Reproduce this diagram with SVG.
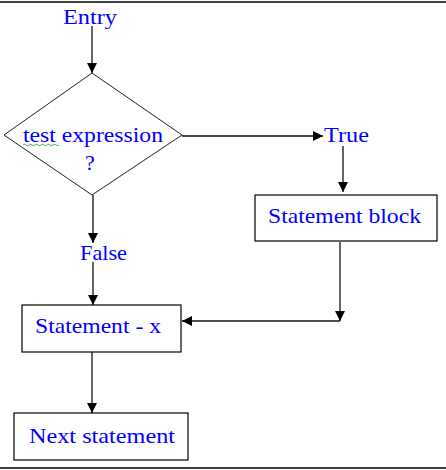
<svg xmlns="http://www.w3.org/2000/svg" width="446" height="470" viewBox="0 0 446 470">
<style>
.shape{fill:#fff;stroke:#000;stroke-width:1.2}
.diam{fill:#fff;stroke:#222;stroke-width:1}
.lbl{font-family:"Liberation Serif","DejaVu Serif",serif;font-size:22px;fill:#0000ff}
.con{stroke:#111;stroke-width:1.3;fill:none}
</style>
<defs>
<marker id="ah" viewBox="0 0 10 10" refX="10" refY="5" markerWidth="10" markerHeight="10" markerUnits="userSpaceOnUse" orient="auto">
<path d="M0,0 L10,5 L0,10 Z" fill="#000"/>
</marker>
</defs>
<rect x="0" y="0" width="446" height="470" fill="#fff"/>
<line x1="0" y1="2" x2="446" y2="2" stroke="#000" stroke-width="1.3"/>
<line x1="0" y1="468" x2="446" y2="468" stroke="#000" stroke-width="1.3"/>
<g id="connectors">
<line class="con" x1="92" y1="26" x2="92" y2="73" marker-end="url(#ah)"/>
<line class="con" x1="182" y1="136" x2="323" y2="136" marker-end="url(#ah)"/>
<line class="con" x1="343" y1="146" x2="343" y2="192" marker-end="url(#ah)"/>
<line class="con" x1="93" y1="195" x2="93" y2="243" marker-end="url(#ah)"/>
<line class="con" x1="93" y1="262" x2="93" y2="305" marker-end="url(#ah)"/>
<line class="con" x1="340" y1="242" x2="340" y2="321" marker-end="url(#ah)"/>
<line class="con" x1="340" y1="321" x2="182" y2="321" marker-end="url(#ah)"/>
<line class="con" x1="92" y1="352" x2="92" y2="413" marker-end="url(#ah)"/>
</g>
<g id="entry">
<text class="lbl" x="63" y="24" textLength="54" lengthAdjust="spacingAndGlyphs">Entry</text>
</g>
<g id="decision">
<polygon class="diam" points="92,73 182,135 92,195 4,135"/>
<text class="lbl" x="23" y="142" textLength="140" lengthAdjust="spacingAndGlyphs">test expression</text>
<text class="lbl" x="85" y="170">?</text>
<path d="M23,145 q1.5,-1.5 3,0 t3,0 t3,0 t3,0 t3,0 t3,0 t3,0 t3,0 t3,0 t3,0 t3,0 t3,0" fill="none" stroke="#2e8b2e" stroke-width="0.8"/>
</g>
<g id="true-label">
<text class="lbl" x="324" y="142" textLength="45" lengthAdjust="spacingAndGlyphs">True</text>
</g>
<g id="false-label">
<text class="lbl" x="80" y="260" textLength="47" lengthAdjust="spacingAndGlyphs">False</text>
</g>
<g id="statement-block">
<rect class="shape" x="255" y="195" width="182" height="46"/>
<text class="lbl" x="268" y="223" textLength="153" lengthAdjust="spacingAndGlyphs">Statement block</text>
</g>
<g id="statement-x">
<rect class="shape" x="22" y="305" width="159" height="47"/>
<text class="lbl" x="35" y="333" textLength="126" lengthAdjust="spacingAndGlyphs">Statement - x</text>
</g>
<g id="next-statement">
<rect class="shape" x="14" y="413" width="174" height="47"/>
<text class="lbl" x="29" y="443" textLength="146" lengthAdjust="spacingAndGlyphs">Next statement</text>
</g>
</svg>
